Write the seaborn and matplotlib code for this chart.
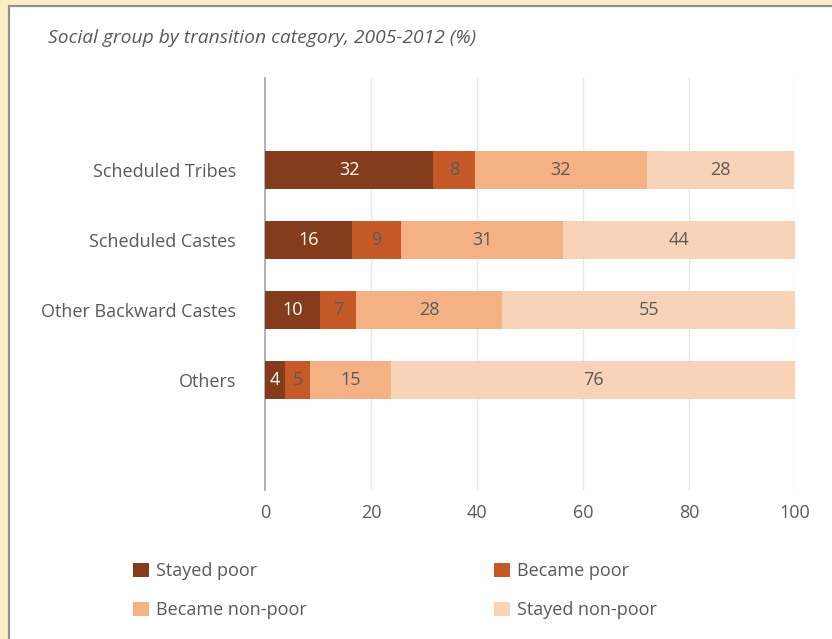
"""Social group by transition category, 2005-2012 — stacked horizontal bars."""
import matplotlib
matplotlib.use("Agg")
import matplotlib.pyplot as plt
from matplotlib.patches import Patch, Rectangle
import numpy as np
import pandas as pd
import seaborn as sns

groups = ["Scheduled Tribes", "Scheduled Castes", "Other Backward Castes", "Others"]
categories = ["Stayed poor", "Became poor", "Became non-poor", "Stayed non-poor"]
stayed_poor = [31.7, 16.4, 10.3, 3.8]
became_poor = [7.9, 9.3, 6.9, 4.7]
became_nonpoor = [32.4, 30.6, 27.6, 15.3]
stayed_nonpoor = [27.9, 43.7, 55.2, 76.2]

colors = ["#843C1C", "#C55A28", "#F4B183", "#F8D3B7"]
label_colors = ["white", "#595959", "#595959", "#595959"]
GRAY = "#595959"

sns.set_theme(style="white")
plt.rcParams["font.family"] = ["Open Sans", "DejaVu Sans"]

df = pd.DataFrame(
    {"group": groups,
     categories[0]: stayed_poor,
     categories[1]: became_poor,
     categories[2]: became_nonpoor,
     categories[3]: stayed_nonpoor}
)
cum = df[categories].cumsum(axis=1)

fig = plt.figure(figsize=(8.32, 6.39), dpi=100, facecolor="#FFEDC4")
fig.add_artist(Rectangle((9 / 832, -0.1), 1.2, 1 - 6 / 639 + 0.1,
                         transform=fig.transFigure, facecolor="white",
                         edgecolor="#8f8f8f", linewidth=1.6, zorder=0))
ax = fig.add_axes([265 / 832, 1 - 490 / 639, 530 / 832, 412 / 639])
ax.set_facecolor("white")

# стек рисуем от полной суммы к первой категории — каждая следующая поверх
for cat, col in reversed(list(zip(categories, colors))):
    sns.barplot(x=cum[cat], y=df["group"], color=col, width=0.54,
                orient="h", ax=ax, saturation=1, linewidth=0, zorder=3)

for i in range(len(groups)):
    left = 0
    for cat, tc in zip(categories, label_colors):
        v = df.loc[i, cat]
        ax.text(left + v / 2, i, f"{v:.0f}", ha="center", va="center",
                color=tc, fontsize=13, zorder=4)
        left += v

ax.set_xlim(0, 100)
ax.set_ylim(4.571, -1.314)
ax.set_xticks(np.arange(0, 101, 20))
ax.grid(axis="x", color="#e6e6e6", linewidth=1, zorder=0)
ax.set_axisbelow(True)
for side in ["top", "right", "bottom"]:
    ax.spines[side].set_visible(False)
ax.spines["left"].set_color("#a6a6a6")
ax.spines["left"].set_linewidth(1.2)
ax.tick_params(axis="both", length=0, colors=GRAY, labelsize=13)
ax.tick_params(axis="y", pad=21)
ax.tick_params(axis="x", pad=10)
ax.set_xlabel("")
ax.set_ylabel("")

fig.text(48 / 832, 1 - 38 / 639, "Social group by transition category, 2005-2012 (%)",
         style="italic", color=GRAY, fontsize=13.9, ha="left", va="center")

# легенда заполняется по столбцам — переставляем, чтобы читалась по строкам
handles = [Patch(facecolor=c, edgecolor="none", label=l) for c, l in zip(colors, categories)]
handles = [handles[0], handles[2], handles[1], handles[3]]
fig.legend(handles=handles, ncol=2, loc="upper left",
           bbox_to_anchor=(117 / 832, 1 - 546 / 639), frameon=False,
           fontsize=13, labelcolor=GRAY, handlelength=0.85, handleheight=0.85,
           handletextpad=0.4, columnspacing=10.4, labelspacing=1.15)

fig.savefig("out.png", dpi=100, facecolor=fig.get_facecolor())
